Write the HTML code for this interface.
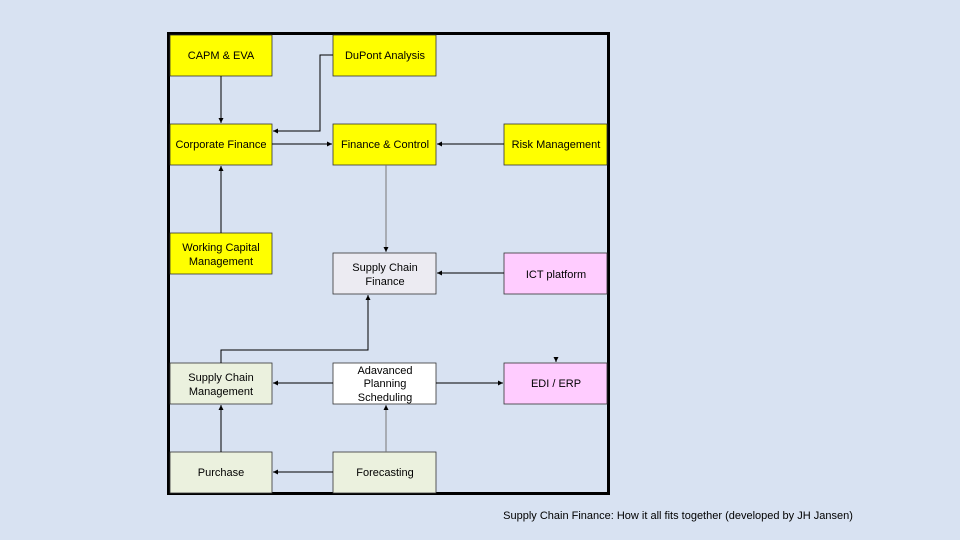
<!DOCTYPE html>
<html><head><style>
body{margin:0;background:#d8e2f2;}
svg{display:block}
text{font-family:"Liberation Sans",sans-serif;font-size:11px;fill:#000;text-anchor:middle}
</style></head><body>
<svg width="960" height="540" viewBox="0 0 960 540">
<defs><marker id="a" markerWidth="6" markerHeight="6" refX="5" refY="3" orient="auto" markerUnits="userSpaceOnUse"><path d="M0,0.5 L5,3 L0,5.5z" fill="#000"/></marker></defs>
<rect x="0" y="0" width="960" height="540" fill="#d8e2f2"/>
<rect x="168.5" y="33.5" width="440" height="460" fill="none" stroke="#000" stroke-width="3"/>
<g stroke="#333" stroke-width="0.8">
<rect x="170" y="35" width="102" height="41" fill="#ffff00"/>
<rect x="333" y="35" width="103" height="41" fill="#ffff00"/>
<rect x="170" y="124" width="102" height="41" fill="#ffff00"/>
<rect x="333" y="124" width="103" height="41" fill="#ffff00"/>
<rect x="504" y="124" width="103" height="41" fill="#ffff00"/>
<rect x="170" y="233" width="102" height="41" fill="#ffff00"/>
<rect x="333" y="253" width="103" height="41" fill="#ecebf2"/>
<rect x="504" y="253" width="103" height="41" fill="#ffccff"/>
<rect x="170" y="363" width="102" height="41" fill="#ebf1de"/>
<rect x="333" y="363" width="103" height="41" fill="#ffffff"/>
<rect x="504" y="363" width="103" height="41" fill="#ffccff"/>
<rect x="170" y="452" width="102" height="41" fill="#ebf1de"/>
<rect x="333" y="452" width="103" height="41" fill="#ebf1de"/>
</g>
<g stroke="#000" stroke-width="1" fill="none" marker-end="url(#a)">
<path d="M221,76 V123"/>
<path d="M333,55 H320 V131 H273"/>
<path d="M272,144 H332"/>
<path d="M504,144 H437"/>
<path d="M221,233 V166"/>
<path d="M386,165 V252" stroke="#777"/>
<path d="M504,273 H437"/>
<path d="M221,363 V350 H368 V295"/>
<path d="M333,383 H273"/>
<path d="M436,383 H503"/>
<path d="M221,452 V405"/>
<path d="M333,472 H273"/>
<path d="M386,452 V405" stroke="#777"/>
<path d="M556,357 V362"/>
</g>
<text x="221" y="59">CAPM &amp; EVA</text>
<text x="385" y="59">DuPont Analysis</text>
<text x="221" y="148">Corporate Finance</text>
<text x="385" y="148">Finance &amp; Control</text>
<text x="556" y="148">Risk Management</text>
<text x="221" y="251">Working Capital</text>
<text x="221" y="265">Management</text>
<text x="385" y="271">Supply Chain</text>
<text x="385" y="285">Finance</text>
<text x="556" y="278">ICT platform</text>
<text x="221" y="381">Supply Chain</text>
<text x="221" y="395">Management</text>
<text x="385" y="374">Adavanced</text>
<text x="385" y="387">Planning</text>
<text x="385" y="401">Scheduling</text>
<text x="556" y="387">EDI / ERP</text>
<text x="221" y="476">Purchase</text>
<text x="385" y="476">Forecasting</text>
<text x="678" y="519" style="font-size:11px">Supply Chain Finance: How it all fits together (developed by JH Jansen)</text>
</svg>
</body></html>
